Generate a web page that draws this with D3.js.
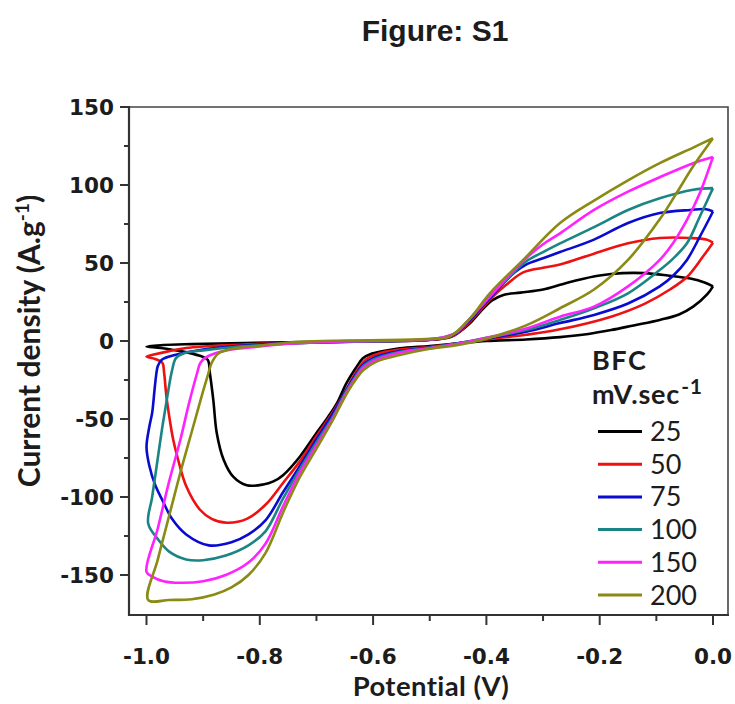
<!DOCTYPE html>
<html>
<head>
<meta charset="utf-8">
<script src="https://cdn.jsdelivr.net/npm/d3@7/dist/d3.min.js"></script>
<style>
  body { margin: 0; background: #fff; }
  svg { display: block; }
</style>
</head>
<body>
<script>
// scan rates (mV/s) and their line colours
var scanRates = ["25", "50", "75", "100", "150", "200"];
var colors = ["#000000", "#ee1111", "#0a0ad0", "#1b8585", "#ff22ff", "#8a8a14"];

// CV loops, [potential V, current density A/g]
var cv25 = [[0,35],[-0.01,30],[-0.035,22],[-0.06,17],[-0.094,13.5],[-0.14,10],[-0.18,7],[-0.22,4.5],[-0.27,2.5],[-0.33,1],[-0.40,0],[-0.45,-1.5],[-0.50,-3.2],[-0.553,-4.7],[-0.582,-6.5],[-0.605,-8.5],[-0.618,-11],[-0.629,-16.5],[-0.647,-27],[-0.664,-40],[-0.682,-50],[-0.70,-59],[-0.729,-74],[-0.759,-86],[-0.776,-90],[-0.794,-92],[-0.823,-92.5],[-0.847,-87],[-0.864,-76],[-0.876,-59],[-0.882,-38],[-0.888,-21],[-0.892,-12],[-0.906,-9.5],[-0.94,-6.5],[-0.975,-4.5],[-1.0,-3.5],[-0.97,-2.6],[-0.92,-2],[-0.85,-1.4],[-0.75,-0.8],[-0.65,-0.3],[-0.55,0.2],[-0.49,1],[-0.46,3],[-0.43,11],[-0.41,19],[-0.39,26],[-0.37,29.5],[-0.34,31],[-0.30,33],[-0.27,36],[-0.24,39],[-0.20,42],[-0.16,43.5],[-0.12,43.5],[-0.08,42],[-0.04,40],[-0.015,37.5],[0,35]];
var cv50 = [[0,63],[-0.018,54],[-0.046,41],[-0.076,33],[-0.12,24],[-0.18,15.6],[-0.27,7.5],[-0.33,4],[-0.40,1],[-0.45,-1.5],[-0.50,-3.8],[-0.553,-5.5],[-0.59,-8],[-0.613,-12],[-0.632,-21],[-0.65,-33],[-0.67,-45],[-0.70,-61],[-0.729,-77],[-0.759,-91],[-0.79,-105],[-0.823,-114],[-0.858,-116.5],[-0.885,-114],[-0.906,-108],[-0.93,-93],[-0.945,-75],[-0.953,-63],[-0.96,-48],[-0.965,-35],[-0.969,-20],[-0.972,-14],[-0.985,-11.5],[-1.0,-10],[-0.985,-8.5],[-0.96,-6.5],[-0.93,-4.5],[-0.9,-3.5],[-0.8,-1.8],[-0.7,-0.8],[-0.6,-0.2],[-0.52,0.4],[-0.48,1.5],[-0.455,4],[-0.43,12],[-0.41,20],[-0.39,28],[-0.365,36],[-0.335,44],[-0.30,47],[-0.27,49],[-0.21,56],[-0.15,62.6],[-0.094,66],[-0.04,66],[-0.012,65],[0,63]];
var cv75 = [[0,83],[-0.023,67],[-0.046,52],[-0.07,42],[-0.094,35],[-0.15,24],[-0.21,16.7],[-0.27,11.5],[-0.33,6],[-0.40,1.5],[-0.45,-1.5],[-0.50,-4.2],[-0.553,-6.5],[-0.594,-10],[-0.617,-15],[-0.635,-24],[-0.653,-35],[-0.67,-46],[-0.70,-63],[-0.729,-80],[-0.759,-97],[-0.79,-115],[-0.82,-124],[-0.85,-129],[-0.89,-131],[-0.93,-124],[-0.955,-114],[-0.972,-102],[-0.985,-92],[-0.995,-80],[-1.0,-68],[-0.995,-55],[-0.99,-46],[-0.986,-32],[-0.983,-22],[-0.98,-16],[-0.973,-12],[-0.95,-9],[-0.9,-5.5],[-0.85,-3.5],[-0.8,-2.3],[-0.7,-0.9],[-0.6,-0.2],[-0.52,0.4],[-0.48,1.8],[-0.455,4.5],[-0.43,13],[-0.41,21],[-0.39,29],[-0.37,37],[-0.35,44],[-0.33,49],[-0.30,53],[-0.27,57],[-0.21,65],[-0.15,75.6],[-0.094,82],[-0.04,84],[-0.012,84.5],[0,83]];
var cv100 = [[0,98],[-0.023,80],[-0.046,62.6],[-0.07,53],[-0.094,45.5],[-0.15,30.6],[-0.21,21],[-0.27,13.5],[-0.33,7],[-0.40,2],[-0.45,-1.5],[-0.50,-4.4],[-0.553,-7],[-0.594,-11],[-0.617,-16],[-0.635,-25],[-0.653,-36],[-0.67,-48],[-0.70,-65],[-0.729,-82],[-0.759,-101],[-0.79,-122],[-0.82,-131],[-0.86,-137.5],[-0.90,-140.5],[-0.93,-140],[-0.96,-135],[-0.98,-127],[-0.997,-117],[-0.99,-100],[-0.982,-80],[-0.972,-55],[-0.963,-35],[-0.955,-19],[-0.948,-11],[-0.935,-8],[-0.9,-6],[-0.85,-4],[-0.8,-2.8],[-0.7,-1],[-0.6,-0.2],[-0.52,0.5],[-0.48,2],[-0.455,5],[-0.43,14],[-0.41,22],[-0.39,30],[-0.36,41],[-0.33,51],[-0.30,57],[-0.27,62.6],[-0.21,73],[-0.15,84],[-0.094,91.5],[-0.035,97],[0,98]];
var cv150 = [[0,118],[-0.023,95],[-0.046,77.6],[-0.07,63],[-0.094,52],[-0.15,35],[-0.21,22],[-0.27,15.6],[-0.33,8],[-0.40,2],[-0.45,-1.8],[-0.50,-4.6],[-0.553,-7.5],[-0.594,-12],[-0.617,-17],[-0.635,-26],[-0.653,-37],[-0.67,-49],[-0.70,-67],[-0.729,-84],[-0.759,-106],[-0.79,-130],[-0.82,-142],[-0.86,-150],[-0.90,-154],[-0.94,-155],[-0.97,-154],[-0.99,-151],[-1.0,-148],[-0.98,-120],[-0.96,-90],[-0.94,-63],[-0.925,-40],[-0.911,-21],[-0.905,-14],[-0.897,-11],[-0.88,-8],[-0.85,-5.5],[-0.8,-3.5],[-0.75,-1.8],[-0.7,-0.7],[-0.6,0],[-0.52,0.6],[-0.48,2],[-0.455,5],[-0.43,14],[-0.41,22],[-0.39,30],[-0.36,42],[-0.33,53],[-0.30,62],[-0.27,69],[-0.21,84],[-0.15,95.7],[-0.094,105],[-0.035,114],[0,118]];
var cv200 = [[0,130],[-0.035,112],[-0.064,95],[-0.094,78],[-0.15,52],[-0.21,33],[-0.27,21],[-0.33,10],[-0.40,1.5],[-0.45,-2.5],[-0.50,-5],[-0.553,-9],[-0.594,-13.2],[-0.617,-18.6],[-0.635,-27],[-0.653,-38],[-0.67,-50],[-0.70,-69],[-0.729,-87],[-0.759,-110],[-0.79,-136],[-0.82,-150],[-0.85,-158],[-0.88,-162.5],[-0.92,-165.5],[-0.96,-166],[-0.997,-166],[-0.98,-140],[-0.96,-112],[-0.94,-84],[-0.92,-58],[-0.90,-32],[-0.891,-21],[-0.885,-14],[-0.873,-8],[-0.844,-4.7],[-0.79,-2.6],[-0.73,-0.5],[-0.65,0.3],[-0.55,0.8],[-0.49,1.5],[-0.464,3],[-0.43,14],[-0.394,30.6],[-0.335,52],[-0.27,75.6],[-0.21,90],[-0.15,103],[-0.094,114],[-0.035,124],[0,130]];

var curves = [cv25, cv50, cv75, cv100, cv150, cv200];

var xTicks = [-1.0, -0.8, -0.6, -0.4, -0.2, 0.0];
var xTickLabels = ["-1.0", "-0.8", "-0.6", "-0.4", "-0.2", "0.0"];
var yTicks = [-150, -100, -50, 0, 50, 100, 150];

var width = 735, height = 704;
var plot = { left: 129, right: 728, top: 107, bottom: 615 };

var svg = d3.select("body").append("svg")
    .attr("width", width)
    .attr("height", height);

var x = d3.scaleLinear().domain([-1.0, 0.0]).range([146.5, 713]);
var y = d3.scaleLinear().domain([0, 150]).range([341, 107]);

var textColor = "#1c1c1c";
var tickFont = "'DejaVu Sans', Verdana, sans-serif";
var labelFont = "Lato, 'Open Sans', sans-serif";

// title
svg.append("text")
    .attr("x", 435).attr("y", 41)
    .attr("text-anchor", "middle")
    .style("font-family", "'Liberation Sans', Arial, sans-serif")
    .style("font-weight", "bold")
    .style("font-size", "30px")
    .style("fill", textColor)
    .text("Figure: S1");

// clip so nothing spills out of the frame
svg.append("clipPath").attr("id", "clip")
    .append("rect")
    .attr("x", plot.left).attr("y", plot.top)
    .attr("width", plot.right - plot.left)
    .attr("height", plot.bottom - plot.top);

var line = d3.line()
    .x(function (d) { return x(d[0]); })
    .y(function (d) { return y(d[1]); })
    .curve(d3.curveCatmullRom.alpha(0.5));

svg.append("g")
    .attr("clip-path", "url(#clip)")
    .selectAll("path")
    .data(curves)
    .enter().append("path")
    .attr("d", line)
    .attr("fill", "none")
    .attr("stroke", function (d, i) { return colors[i]; })
    .attr("stroke-width", 2.6)
    .attr("stroke-linejoin", "round");

// frame: top and right edges
svg.append("path")
    .attr("d", "M" + plot.left + "," + plot.top + "H" + plot.right + "V" + plot.bottom)
    .attr("fill", "none")
    .attr("stroke", "#444")
    .attr("stroke-width", 1.6);

// left axis
var gy = svg.append("g").attr("transform", "translate(" + plot.left + ",0)");
gy.append("line")
    .attr("x1", 0).attr("x2", 0)
    .attr("y1", plot.top - 1).attr("y2", plot.bottom + 1)
    .attr("stroke", "#333").attr("stroke-width", 2.2);
gy.selectAll(".tk")
    .data(d3.range(-150, 151, 25))
    .enter().append("line")
    .attr("x1", function (d) { return d % 50 === 0 ? -9 : -5; })
    .attr("x2", 0)
    .attr("y1", function (d) { return y(d); })
    .attr("y2", function (d) { return y(d); })
    .attr("stroke", "#333").attr("stroke-width", 2);
gy.selectAll(".lbl")
    .data(yTicks)
    .enter().append("text")
    .attr("x", -15)
    .attr("y", function (d) { return y(d) + 8; })
    .attr("text-anchor", "end")
    .style("font-family", tickFont)
    .style("font-weight", "bold")
    .style("font-size", "21.5px")
    .style("fill", textColor)
    .text(function (d) { return d; });

// bottom axis
var gx = svg.append("g").attr("transform", "translate(0," + plot.bottom + ")");
gx.append("line")
    .attr("x1", plot.left - 1).attr("x2", plot.right + 1)
    .attr("y1", 0).attr("y2", 0)
    .attr("stroke", "#333").attr("stroke-width", 2.2);
gx.selectAll(".tk")
    .data(d3.range(0, 11))
    .enter().append("line")
    .attr("x1", function (d) { return x(-1 + d / 10); })
    .attr("x2", function (d) { return x(-1 + d / 10); })
    .attr("y1", 0)
    .attr("y2", function (d) { return d % 2 === 0 ? 10 : 6; })
    .attr("stroke", "#333").attr("stroke-width", 2);
gx.selectAll(".lbl")
    .data(xTicks)
    .enter().append("text")
    .attr("x", function (d) { return x(d); })
    .attr("y", 49)
    .attr("text-anchor", "middle")
    .style("font-family", tickFont)
    .style("font-weight", "bold")
    .style("font-size", "21.5px")
    .style("fill", textColor)
    .text(function (d, i) { return xTickLabels[i]; });

// axis titles
svg.append("text")
    .attr("x", 431).attr("y", 696)
    .attr("text-anchor", "middle")
    .style("font-family", labelFont)
    .style("font-weight", "bold")
    .style("font-size", "27.5px")
    .style("letter-spacing", "0.4px")
    .style("fill", textColor)
    .text("Potential (V)");

var yTitle = svg.append("text")
    .attr("transform", "translate(40,341) rotate(-90)")
    .attr("text-anchor", "middle")
    .style("font-family", labelFont)
    .style("font-weight", "bold")
    .style("font-size", "30px")
    .style("fill", textColor);
yTitle.append("tspan").text("Current density (A.g");
yTitle.append("tspan").attr("dy", -11).style("font-size", "19px").text("-1");
yTitle.append("tspan").attr("dy", 11).text(")");

// legend
var legend = svg.append("g");
legend.append("text")
    .attr("x", 592).attr("y", 370)
    .style("font-family", labelFont)
    .style("font-weight", "bold")
    .style("font-size", "27px")
    .style("letter-spacing", "1.5px")
    .style("fill", textColor)
    .text("BFC");
var unit = legend.append("text")
    .attr("x", 592).attr("y", 404)
    .style("font-family", labelFont)
    .style("font-weight", "bold")
    .style("font-size", "27px")
    .style("letter-spacing", "0.8px")
    .style("fill", textColor);
unit.append("tspan").text("mV.sec");
unit.append("tspan").attr("dy", -10).attr("dx", 1).style("font-size", "21px").text("-1");

var rows = legend.selectAll(".row")
    .data(scanRates)
    .enter().append("g")
    .attr("transform", function (d, i) { return "translate(0," + (431.5 + i * 32.7) + ")"; });
rows.append("line")
    .attr("x1", 598).attr("x2", 642)
    .attr("y1", 0).attr("y2", 0)
    .attr("stroke", function (d, i) { return colors[i]; })
    .attr("stroke-width", 3);
rows.append("text")
    .attr("x", 650).attr("y", 9.5)
    .style("font-family", labelFont)
    .style("font-size", "27px")
    .style("fill", textColor)
    .text(function (d) { return d; });
</script>
</body>
</html>
